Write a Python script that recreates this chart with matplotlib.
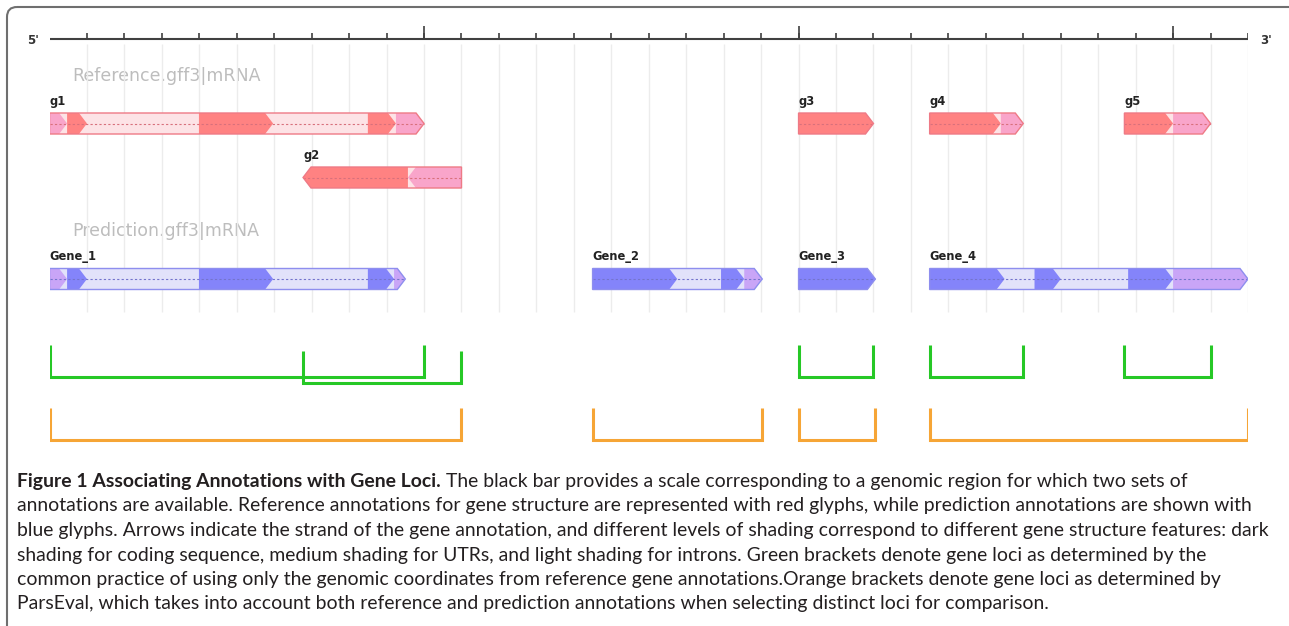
import matplotlib
matplotlib.use("Agg")
import matplotlib.pyplot as plt
from matplotlib.patches import Polygon, FancyBboxPatch

# genomic scale, 5' -> 3' (arbitrary units, one tick per unit)
SCALE_END = 32
MINOR_TICKS = list(range(1, 33))
MAJOR_TICKS = [10, 20, 30]

# Reference.gff3|mRNA
REF_NAMES = ["g1", "g2", "g3", "g4", "g5"]
REF_START = [0.0, 6.77, 20.0, 23.5, 28.7]
REF_END = [10.0, 11.0, 22.0, 26.0, 31.0]
REF_STRAND = ["+", "-", "+", "+", "+"]
REF_ROW = [0, 1, 0, 0, 0]
REF_FEATURES = [
    [("utr", 0.0, 0.47), ("cds", 0.47, 1.0), ("cds", 3.99, 5.97), ("cds", 8.5, 9.25), ("utr", 9.25, 10.0)],
    [("cds", 6.77, 9.57), ("utr", 9.57, 11.0)],
    [("cds", 20.0, 22.0)],
    [("cds", 23.5, 25.4), ("utr", 25.4, 26.0)],
    [("cds", 28.7, 30.0), ("utr", 30.0, 31.0)],
]

# Prediction.gff3|mRNA
PRED_NAMES = ["Gene_1", "Gene_2", "Gene_3", "Gene_4"]
PRED_START = [0.0, 14.5, 20.0, 23.5]
PRED_END = [9.5, 19.03, 22.05, 32.0]
PRED_STRAND = ["+", "+", "+", "+"]
PRED_FEATURES = [
    [("utr", 0.0, 0.47), ("cds", 0.47, 1.0), ("cds", 3.99, 5.97), ("cds", 8.5, 9.2), ("utr", 9.2, 9.5)],
    [("cds", 14.5, 16.76), ("cds", 17.93, 18.55), ("utr", 18.55, 19.03)],
    [("cds", 20.0, 22.05)],
    [("cds", 23.5, 25.5), ("cds", 26.3, 27.0), ("cds", 28.8, 30.0), ("utr", 30.0, 32.0)],
]

CAPTION_BOLD = "Figure 1 Associating Annotations with Gene Loci."
CAPTION_LINES = [
    " The black bar provides a scale corresponding to a genomic region for which two sets of",
    "annotations are available. Reference annotations for gene structure are represented with red glyphs, while prediction annotations are shown with",
    "blue glyphs. Arrows indicate the strand of the gene annotation, and different levels of shading correspond to different gene structure features: dark",
    "shading for coding sequence, medium shading for UTRs, and light shading for introns. Green brackets denote gene loci as determined by the",
    "common practice of using only the genomic coordinates from reference gene annotations.Orange brackets denote gene loci as determined by",
    "ParsEval, which takes into account both reference and prediction annotations when selecting distinct loci for comparison.",
]

RED = {"cds": "#FF8282", "utr": "#F9A5CA", "intron": "#FDE3E6", "edge": "#EE7A86", "dash": "#D8707C"}
BLUE = {"cds": "#8484FA", "utr": "#C9A5F7", "intron": "#E2E2FA", "edge": "#8E8EEE", "dash": "#7474CC"}
GREEN = "#26C826"
ORANGE = "#F6A536"

W, H = 1289, 626
X0, X1 = 49.5, 1248.0          # pixel span of the scale bar
BOX_H = 21
TIP = 8 / ((X1 - X0) / SCALE_END)   # arrow tip length in scale units


def glyph(x0, x1, y, strand):
    t = min(TIP, x1 - x0)
    top, bot = y - BOX_H / 2, y + BOX_H / 2
    if strand == "+":
        return [(x0, top), (x1 - t, top), (x1, y), (x1 - t, bot), (x0, bot)]
    return [(x0 + t, top), (x1, top), (x1, bot), (x0 + t, bot), (x0, y)]


def draw_gene(ax, name, start, end, strand, feats, y, pal):
    ax.add_patch(Polygon(glyph(start, end, y, strand), closed=True, fc=pal["intron"], ec="none", zorder=2))
    for kind, fs, fe in feats:
        ax.add_patch(Polygon(glyph(fs, fe, y, strand), closed=True, fc=pal[kind], ec="none", zorder=3))
    ax.plot([start, end], [y, y], ls=(0, (2, 2)), lw=0.8, color=pal["dash"], zorder=4)
    ax.add_patch(Polygon(glyph(start, end, y, strand), closed=True, fc="none", ec=pal["edge"], lw=1, zorder=5))
    ax.text(start, y - 19, name, fontsize=8.3, fontweight="bold", color="#222222", ha="left", va="baseline")


def bracket(ax, x0, x1, top, bottom, color):
    ax.plot([x0, x0, x1, x1], [top, bottom, bottom, top], color=color, lw=2.2,
            solid_joinstyle="miter", solid_capstyle="butt", zorder=3)


def merge_loci(starts, ends):
    spans = sorted(zip(starts, ends))
    out = [list(spans[0])]
    for s, e in spans[1:]:
        if s <= out[-1][1]:
            out[-1][1] = max(out[-1][1], e)
        else:
            out.append([s, e])
    return out


fig = plt.figure(figsize=(W / 100, H / 100), dpi=100)
bg = fig.add_axes([0, 0, 1, 1])
bg.set_xlim(0, W); bg.set_ylim(H, 0); bg.axis("off")

ax = fig.add_axes([X0 / W, 0, (X1 - X0) / W, 1])
ax.set_xlim(0, SCALE_END); ax.set_ylim(H, 0); ax.axis("off")

# frame around figure
bg.add_patch(FancyBboxPatch((7, 7), 1300, 700, boxstyle="round,pad=0,rounding_size=10",
                            fc="none", ec="#6f6f6f", lw=1.5, zorder=1))

# scale bar
ax.vlines(MINOR_TICKS, 44, 312, color="#ECECEC", lw=1, zorder=0)
ax.hlines(39, 0, SCALE_END, color="#404040", lw=1.5, zorder=2)
ax.vlines(MINOR_TICKS, 33, 39, color="#404040", lw=1.2, zorder=2)
ax.vlines(MAJOR_TICKS, 26, 39, color="#404040", lw=1.2, zorder=2)
bg.text(33, 40, "5'", fontsize=8.5, fontweight="bold", color="#333333", ha="center", va="center")
bg.text(1266, 41, "3'", fontsize=8.5, fontweight="bold", color="#333333", ha="center", va="center")

# tracks
bg.text(72, 76, "Reference.gff3|mRNA", fontsize=12.5, color="#BDBDBD", ha="left", va="center")
bg.text(72, 231, "Prediction.gff3|mRNA", fontsize=12.5, color="#BDBDBD", ha="left", va="center")
ref_rows_y = [123.5, 177.5]
for i, name in enumerate(REF_NAMES):
    draw_gene(ax, name, REF_START[i], REF_END[i], REF_STRAND[i], REF_FEATURES[i],
              ref_rows_y[REF_ROW[i]], RED)
for i, name in enumerate(PRED_NAMES):
    draw_gene(ax, name, PRED_START[i], PRED_END[i], PRED_STRAND[i], PRED_FEATURES[i], 279, BLUE)

# loci: green = reference genes only, orange = ParsEval (reference + prediction)
for i in range(len(REF_NAMES)):
    off = 6 * REF_ROW[i]
    bracket(ax, REF_START[i], REF_END[i], 345 + off, 377 + off, GREEN)
for s, e in merge_loci(REF_START + PRED_START, REF_END + PRED_END):
    bracket(ax, s, e, 408, 440, ORANGE)

# caption, sized so the widest line fills the frame
fam = "Lato"
r = fig.canvas.get_renderer()
probe = bg.text(0, 0, CAPTION_LINES[2], fontsize=10, family=fam)
size = 10 * 1255 / probe.get_window_extent(r).width
probe.remove()

base0, step = 487, 24.5
bold = bg.text(17, base0, CAPTION_BOLD, fontsize=size, family=fam, fontweight="bold",
               color="#231F20", ha="left", va="baseline")
bx = bold.get_window_extent(r).x1
for i, line in enumerate(CAPTION_LINES):
    x = bx if i == 0 else 17
    bg.text(x, base0 + i * step, line, fontsize=size, family=fam, color="#231F20",
            ha="left", va="baseline")

fig.savefig("out.png", dpi=100)
